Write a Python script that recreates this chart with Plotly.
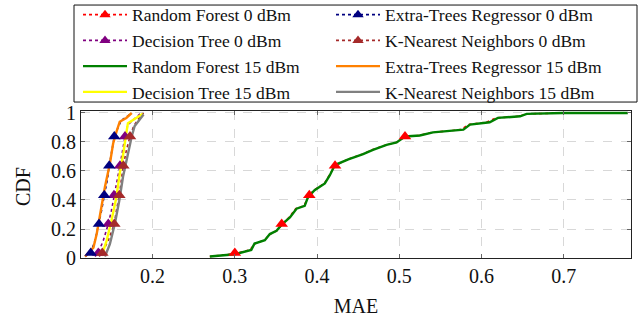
import plotly.graph_objects as go

# ---------------- data ----------------
# 15 dBm curves (solid lines)
rf15_x = [0.2696, 0.300, 0.320, 0.324, 0.3365, 0.3426, 0.3507, 0.357, 0.367, 0.375, 0.385, 0.389,
          0.397, 0.4095, 0.4156, 0.4217, 0.438, 0.456, 0.468, 0.4846, 0.4968, 0.507, 0.525, 0.541,
          0.578, 0.586, 0.610, 0.620, 0.647, 0.655, 0.699, 0.778]
rf15_y = [0.01, 0.026, 0.056, 0.10, 0.123, 0.165, 0.188, 0.23, 0.28, 0.34, 0.36, 0.42,
          0.467, 0.514, 0.571, 0.641, 0.68, 0.716, 0.746, 0.78, 0.797, 0.838, 0.845, 0.866,
          0.885, 0.92, 0.936, 0.966, 0.977, 0.994, 1.0, 1.0]

et15_x = [0.1178, 0.128, 0.132, 0.136, 0.142, 0.148, 0.152, 0.156, 0.160, 0.168, 0.1746]
et15_y = [0.01, 0.072, 0.165, 0.30, 0.49, 0.65, 0.79, 0.87, 0.94, 0.966, 1.0]

dt15_x = [0.138, 0.144, 0.150, 0.156, 0.160, 0.1644, 0.168, 0.170, 0.180, 0.188]
dt15_y = [0.014, 0.118, 0.258, 0.42, 0.583, 0.72, 0.862, 0.93, 0.966, 0.994]

knn15_x = [0.142, 0.148, 0.154, 0.1595, 0.164, 0.170, 0.1746, 0.178, 0.185, 0.189]
knn15_y = [0.01, 0.095, 0.235, 0.397, 0.56, 0.72, 0.838, 0.908, 0.966, 0.99]

# 0 dBm curves (dotted lines)
rf0_x = [0.2696, 0.300, 0.318, 0.325, 0.336, 0.343, 0.351, 0.357, 0.366, 0.374, 0.384, 0.3906,
         0.396, 0.409, 0.415, 0.4219, 0.437, 0.455, 0.467, 0.484, 0.496, 0.507, 0.524, 0.540,
         0.575, 0.584, 0.606, 0.618, 0.645, 0.656, 0.700, 0.778]
rf0_y = [0.01, 0.030, 0.056, 0.10, 0.123, 0.165, 0.188, 0.23, 0.28, 0.34, 0.36, 0.432,
         0.467, 0.514, 0.571, 0.636, 0.68, 0.716, 0.746, 0.78, 0.797, 0.838, 0.845, 0.866,
         0.885, 0.92, 0.936, 0.966, 0.977, 0.994, 1.0, 1.0]

et0_x = [0.118, 0.1247, 0.130, 0.1348, 0.138, 0.1412, 0.145, 0.1473, 0.150, 0.1534, 0.158, 0.162, 0.170, 0.175]
et0_y = [0.01, 0.037, 0.12, 0.235, 0.33, 0.432, 0.54, 0.636, 0.74, 0.838, 0.90, 0.95, 0.98, 1.0]

dt0_x = [0.130, 0.1339, 0.140, 0.1461, 0.150, 0.1530, 0.157, 0.1603, 0.163, 0.1664, 0.170, 0.178, 0.186]
dt0_y = [0.01, 0.037, 0.12, 0.235, 0.33, 0.432, 0.54, 0.636, 0.74, 0.838, 0.92, 0.96, 1.0]

knn0_x = [0.135, 0.1388, 0.146, 0.1534, 0.156, 0.1595, 0.162, 0.1644, 0.168, 0.1725, 0.177, 0.183, 0.189]
knn0_y = [0.01, 0.037, 0.12, 0.235, 0.33, 0.432, 0.54, 0.636, 0.74, 0.838, 0.91, 0.96, 1.0]

# marker positions on the 0 dBm curves
rf0_mx = [0.300, 0.357, 0.3906, 0.4219, 0.507]
et0_mx = [0.1247, 0.1348, 0.1412, 0.1473, 0.1534]
dt0_mx = [0.1339, 0.1461, 0.1530, 0.1603, 0.1664]
knn0_mx = [0.1388, 0.1534, 0.1595, 0.1644, 0.1725]
mark_y = [0.035, 0.235, 0.432, 0.636, 0.838]

x_ticks = [0.2, 0.3, 0.4, 0.5, 0.6, 0.7]
x_tick_labels = ["0.2", "0.3", "0.4", "0.5", "0.6", "0.7"]
y_ticks = [0, 0.2, 0.4, 0.6, 0.8, 1.0]
y_tick_labels = ["0", "0.2", "0.4", "0.6", "0.8", "1"]

# ---------------- figure ----------------
FONT = "Liberation Serif"
fig = go.Figure()

# (name, x, y, marker x, colour, legend column)
zero_series = [
    ("Random Forest 0 dBm", rf0_x, rf0_y, rf0_mx, "#ff0000", "legend"),
    ("Decision Tree 0 dBm", dt0_x, dt0_y, dt0_mx, "#800080", "legend"),
    ("Extra-Trees Regressor 0 dBm", et0_x, et0_y, et0_mx, "#000080", "legend2"),
    ("K-Nearest Neighbors 0 dBm", knn0_x, knn0_y, knn0_mx, "#a52a2a", "legend2"),
]
full_series = [
    ("Random Forest 15 dBm", rf15_x, rf15_y, "#008000", "legend"),
    ("Decision Tree 15 dBm", dt15_x, dt15_y, "#ffff00", "legend"),
    ("Extra-Trees Regressor 15 dBm", et15_x, et15_y, "#ff8000", "legend2"),
    ("K-Nearest Neighbors 15 dBm", knn15_x, knn15_y, "#808080", "legend2"),
]

for name, xs, ys, mx, col, lg in zero_series:
    fig.add_trace(go.Scatter(x=xs, y=ys, mode="lines", showlegend=False,
                             line=dict(color=col, width=1.6, dash="dot"), hoverinfo="skip"))
for name, xs, ys, col, lg in full_series:
    fig.add_trace(go.Scatter(x=xs, y=ys, mode="lines", showlegend=False,
                             line=dict(color=col, width=2.4), hoverinfo="skip"))
for name, xs, ys, mx, col, lg in zero_series:
    fig.add_trace(go.Scatter(x=mx, y=mark_y, mode="markers", showlegend=False,
                             marker=dict(symbol="triangle-up", size=11, color=col, line=dict(width=0))))

# legend entries: two columns = two legends
for name, xs, ys, mx, col, lg in zero_series:
    fig.add_trace(go.Scatter(x=[None], y=[None], mode="lines+markers", name=name, legend=lg,
                             line=dict(color=col, width=1.6, dash="dot"),
                             marker=dict(symbol="triangle-up", size=10, color=col)))
for name, xs, ys, col, lg in full_series:
    fig.add_trace(go.Scatter(x=[None], y=[None], mode="lines", name=name, legend=lg,
                             line=dict(color=col, width=2.4)))

axis_common = dict(
    showline=True, linecolor="#222", linewidth=1, mirror="ticks",
    ticks="inside", ticklen=4, tickcolor="#666", tickwidth=1,
    showgrid=True, gridcolor="#d8d8d8", griddash="dash", gridwidth=1,
    zeroline=False, tickfont=dict(family=FONT, size=20, color="#111"),
)

W, H = 642, 322
PX0, PX1, PY0, PY1 = 81, 631, 110.7, 258.3
PW, PH = PX1 - PX0, PY1 - PY0


def px2paper_x(p):
    return (p - PX0) / PW


def px2paper_y(p):
    return (PY1 - p) / PH


legend_common = dict(orientation="v", xref="paper", yref="paper", xanchor="left", yanchor="top",
                     borderwidth=0, bgcolor="rgba(0,0,0,0)", tracegroupgap=0, itemwidth=44,
                     traceorder="normal", font=dict(family=FONT, size=17.5, color="#111"))

fig.update_layout(
    width=W, height=H,
    margin=dict(l=PX0, r=W - PX1, t=PY0, b=H - PY1, autoexpand=False),
    paper_bgcolor="white", plot_bgcolor="white",
    font=dict(family=FONT, size=18, color="#111"),
    xaxis=dict(range=[0.1129, 0.7819], tickvals=x_ticks, ticktext=x_tick_labels,
               title=dict(text="MAE", font=dict(family=FONT, size=20), standoff=12), **axis_common),
    yaxis=dict(range=[0, 1.0137], tickvals=y_ticks, ticktext=y_tick_labels, **axis_common),
    annotations=[dict(text="CDF", xref="paper", yref="paper", x=px2paper_x(23), y=px2paper_y(187),
                      xanchor="center", yanchor="middle", textangle=-90, showarrow=False,
                      font=dict(family=FONT, size=20, color="#111"))],
    legend=dict(x=px2paper_x(78), y=px2paper_y(-4), **legend_common),
    legend2=dict(x=px2paper_x(331), y=px2paper_y(-4), **legend_common),
    shapes=[dict(type="rect", xref="paper", yref="paper",
                 x0=px2paper_x(74), x1=px2paper_x(637),
                 y0=px2paper_y(101.7), y1=px2paper_y(4.3),
                 line=dict(color="#111", width=1), fillcolor="rgba(0,0,0,0)", layer="above")],
    showlegend=True,
)

fig.write_html("out.html", config={"displayModeBar": False},
               post_script="document.body.style.margin='0px';")
